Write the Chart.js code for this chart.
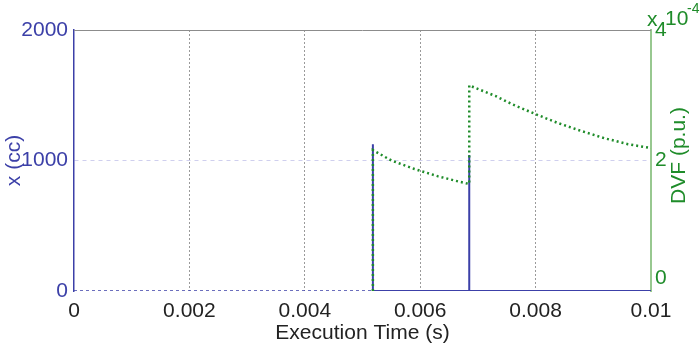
<!DOCTYPE html>
<html>
<head>
<meta charset="utf-8">
<script src="https://cdn.jsdelivr.net/npm/chart.js@4/dist/chart.umd.min.js"></script>
<style>
  html, body { margin: 0; padding: 0; background: #fff; }
</style>
</head>
<body>
<canvas id="plot" width="700" height="351"></canvas>
<script>
// x (cc) trace: flat until the first switching, then two spikes
const ccTime  = [0, 0.00518, 0.00518, 0.00518, 0.00685, 0.00685, 0.00685, 0.01];
const ccValue = [0, 0,       1125,    0,       0,       1042,    0,       0];

// DVF trace, in units of 1e-4 p.u.
const dvfTime  = [0.00518, 0.00518, 0.0055, 0.0059, 0.0063, 0.0067, 0.00685,
                  0.00685, 0.0073, 0.0076, 0.0080, 0.0084, 0.0088, 0.0092, 0.0096, 0.01];
const dvfValue = [0, 2.16, 2.00, 1.87, 1.76, 1.67, 1.64,
                  3.15, 2.99, 2.86, 2.71, 2.57, 2.45, 2.34, 2.25, 2.19];

const timeTicks = [0, 0.002, 0.004, 0.006, 0.008, 0.01];
const ccTicks = [0, 1000, 2000];
const dvfTicks = [0, 2, 4];

const BLUE = '#3c40a8';
const GREEN = '#1f8c2a';
const FONT = 'Liberation Sans, Arial, Helvetica, sans-serif';

Chart.defaults.font.family = FONT;
Chart.defaults.font.size = 21;

const toPoints = (xs, ys) => xs.map((x, i) => ({ x: x, y: ys[i] }));
const setTicks = list => scale => { scale.ticks = list.map(v => ({ value: v })); };

// top frame line, right axis title and the exponent label
const extras = {
  id: 'extras',
  afterDraw(chart) {
    const { ctx, chartArea: a } = chart;
    ctx.save();
    ctx.strokeStyle = '#8c8c8c';
    ctx.lineWidth = 1;
    ctx.beginPath();
    ctx.moveTo(a.left, a.top + 0.5);
    ctx.lineTo(a.right, a.top + 0.5);
    ctx.stroke();

    ctx.fillStyle = GREEN;
    ctx.translate(679, (a.top + a.bottom) / 2 - 5);
    ctx.rotate(-Math.PI / 2);
    ctx.textAlign = 'center';
    ctx.textBaseline = 'middle';
    ctx.font = '21px ' + FONT;
    ctx.fillText('DVF (p.u.)', 0, 0);
    ctx.restore();

    ctx.save();
    ctx.fillStyle = GREEN;
    ctx.textAlign = 'left';
    ctx.textBaseline = 'alphabetic';
    ctx.font = '21px ' + FONT;
    ctx.fillText('x', 647, 26);
    ctx.fillText('10', 665, 25);
    ctx.font = '14px ' + FONT;
    ctx.fillText('-4', 687, 13);
    ctx.restore();
  }
};

new Chart(document.getElementById('plot'), {
  type: 'line',
  data: {
    datasets: [
      {
        label: 'DVF',
        data: toPoints(dvfTime, dvfValue),
        yAxisID: 'y2',
        borderColor: GREEN,
        borderWidth: 2.5,
        borderDash: [2, 3],
        pointRadius: 0,
        tension: 0,
        order: 0
      },
      {
        label: 'x',
        data: toPoints(ccTime, ccValue),
        yAxisID: 'y',
        borderColor: BLUE,
        borderWidth: 2,
        pointRadius: 0,
        tension: 0,
        order: 1,
        segment: {
          borderDash: c => c.p0DataIndex === 0 ? [3, 3] : undefined,
          borderWidth: c => c.p0DataIndex === 0 ? 1.5 : undefined
        }
      }
    ]
  },
  options: {
    responsive: false,
    animation: false,
    layout: { padding: { top: 30, left: 0, right: 0, bottom: 0 } },
    plugins: { legend: { display: false }, tooltip: { enabled: false } },
    scales: {
      x: {
        type: 'linear',
        min: 0,
        max: 0.01,
        afterBuildTicks: setTicks(timeTicks),
        afterFit: s => { s.height = 60; },
        border: { display: false, dash: [2, 2] },
        grid: {
          drawTicks: false,
          color: c => (c.tick && (c.tick.value === 0 || c.tick.value === 0.01)) ? 'rgba(0,0,0,0)' : '#9a9a9a',
          lineWidth: 1
        },
        ticks: {
          color: '#222',
          padding: 8,
          maxRotation: 0,
          callback: v => String(v)
        },
        title: {
          display: true,
          text: 'Execution Time (s)',
          color: '#222',
          padding: { top: 0, bottom: 5 }
        }
      },
      y: {
        type: 'linear',
        position: 'left',
        min: 0,
        max: 2000,
        afterBuildTicks: setTicks(ccTicks),
        afterFit: s => { s.width = 74; },
        border: { display: true, color: BLUE, width: 1.5, dash: [4, 4] },
        grid: {
          drawTicks: false,
          color: c => (c.tick && c.tick.value === 1000) ? '#cfcfee' : 'rgba(0,0,0,0)'
        },
        ticks: { color: BLUE, padding: 6, callback: v => String(v) },
        title: {
          display: true,
          text: 'x (cc)',
          color: BLUE,
          padding: { top: 2, bottom: 0 }
        }
      },
      y2: {
        type: 'linear',
        position: 'right',
        min: 0,
        max: 4,
        afterBuildTicks: setTicks(dvfTicks),
        afterFit: s => { s.width = 49; },
        border: { display: true, color: '#98c890', width: 2 },
        grid: { display: false, drawTicks: false },
        ticks: {
          color: GREEN,
          padding: 4,
          callback: v => v === 0 ? ['0', ''] : String(v)
        }
      }
    }
  },
  plugins: [extras]
});
</script>
</body>
</html>
